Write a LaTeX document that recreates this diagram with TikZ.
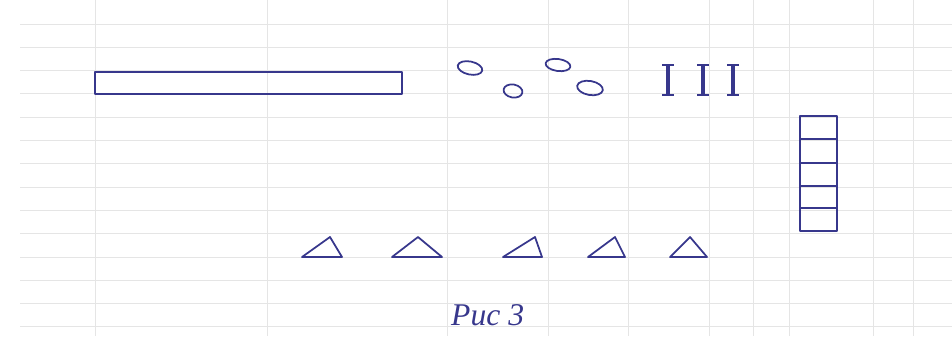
\documentclass[tikz,border=0pt]{standalone}
\usepackage{fontspec}
\newfontfamily\handfont{Liberation Serif}
\usetikzlibrary{calc}
\definecolor{ink}{RGB}{55,55,140}
\tikzset{
  pen/.style={
    draw=ink,
    line width=1pt,
    line join=round
  },
  grid line/.style={
    draw=black!10,
    line width=0.5pt
  },
  caption/.style={
    font=\handfont\itshape\fontsize{18}{18}\selectfont,
    text=ink
  }
}
\begin{document}
\begin{tikzpicture}[x=0.02cm, y=-0.02cm]
    \useasboundingbox (0,0) rectangle (952,336);
    % 1. faint notebook grid
    \foreach \k in {0,...,13}{
      \draw[grid line] (20, {24+23.3*\k}) -- (952, {24+23.3*\k});
    }
    \foreach \x in {95,267,447,548,628,709,753,789,873,913}{
      \draw[grid line] (\x, 0) -- (\x, 336);
    }

    % 2. long bar
    \draw[pen] (95,72) rectangle (402,94);

    % 3. small ovals
    \draw[pen] (470,68) ellipse [x radius=12.5, y radius=6.5, rotate=-12];
    \draw[pen] (513,91) ellipse [x radius=9.5, y radius=6.5, rotate=-10];
    \draw[pen] (558,65) ellipse [x radius=12.5, y radius=6, rotate=-8];
    \draw[pen] (590,88) ellipse [x radius=13, y radius=7, rotate=-10];

    % 4. three sticks with serifs
    \foreach \x in {668,703,733}{
      \draw[pen, line width=1.8pt] (\x,66) -- (\x,94);
      \draw[pen] (\x-6,65) -- (\x+6,65);
      \draw[pen] (\x-6,95) -- (\x+6,95);
    }

    % 5. ladder
    \draw[pen, line width=1.3pt] (800,116) rectangle (837,231);
    \foreach \y in {139,163,186,208}{
      \draw[pen] (800,\y) -- (837,\y);
    }

    % 6. triangles (left, apex, right)
    \foreach \a/\t/\b in {302/330/342, 392/418/442, 503/535/542, 588/615/625, 670/690/707}{
      \draw[pen] (\a,257) -- (\t,237) -- (\b,257) -- cycle;
    }

    % 7. caption
    \node[caption, anchor=base west] (cap) at (445,325) {Рис 3};

\end{tikzpicture}
\end{document}
